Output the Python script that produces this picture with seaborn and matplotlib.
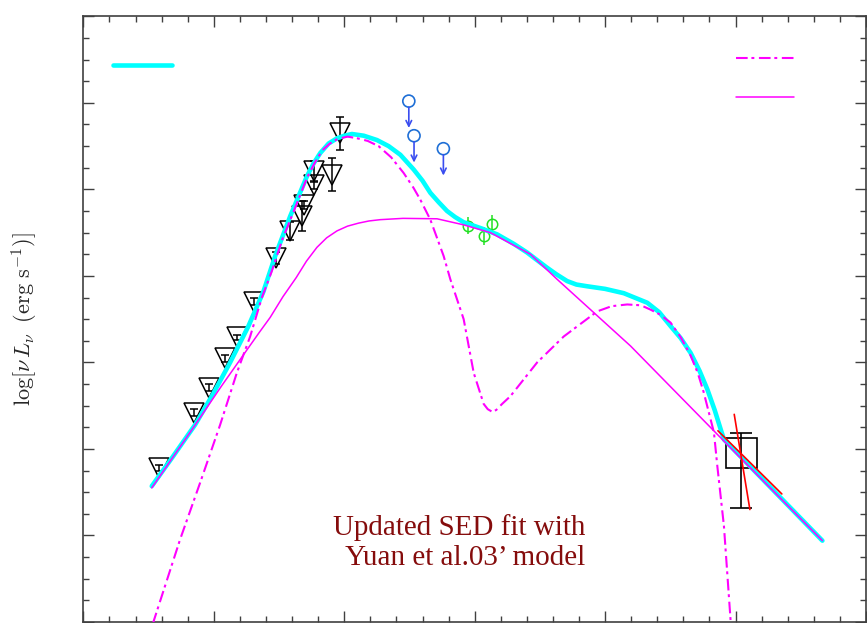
import matplotlib
matplotlib.use("Agg")
import matplotlib.pyplot as plt
from matplotlib.patches import Rectangle
from matplotlib.ticker import MultipleLocator, NullFormatter
import seaborn as sns

# ---- model curves: log(nu / Hz) vs log(nu L_nu / erg s^-1) ----
total_lognu = [9.048, 9.380, 9.713, 9.969, 10.250, 10.531, 10.761, 10.941, 11.171,
               11.427, 11.53, 11.632, 11.76, 11.888, 12.0, 12.118, 12.3, 12.502,
               12.68, 12.860, 13.064, 13.2, 13.320, 13.45, 13.576, 13.70, 13.831,
               14.1, 14.344, 14.6, 14.804, 15.10, 15.25, 15.418, 15.56, 15.725,
               16.0, 16.287, 16.646, 16.83, 17.004, 17.16, 17.311, 17.45, 17.567,
               17.68, 17.771, 17.822, 19.332]
total_lum = [31.57, 31.92, 32.28, 32.61, 33.00, 33.42, 33.82, 34.23, 34.69,
             35.15, 35.30, 35.42, 35.53, 35.59, 35.62, 35.64, 35.62, 35.57,
             35.50, 35.40, 35.23, 35.10, 34.96, 34.85, 34.75, 34.68, 34.62,
             34.55, 34.48, 34.37, 34.27, 34.10, 34.02, 33.94, 33.90, 33.88,
             33.85, 33.80, 33.69, 33.58, 33.42, 33.28, 33.11, 32.90, 32.69,
             32.45, 32.23, 32.11, 30.94]

thermal_lognu = [9.063, 9.073, 9.483, 9.790, 10.097, 10.353, 10.557, 10.737, 10.887,
                 11.05, 11.222, 11.432, 11.55, 11.662, 11.78, 11.893, 12.05, 12.200,
                 12.36, 12.526, 12.72, 12.910, 13.06, 13.167, 13.320, 13.524,
                 13.627, 13.831, 13.985, 14.07, 14.138, 14.20, 14.267, 14.33,
                 14.42, 14.548, 14.958, 15.366, 15.879, 16.1, 16.339, 16.55,
                 16.697, 16.85, 17.004, 17.16, 17.311, 17.42, 17.510, 17.669,
                 17.721, 17.822, 17.925, 17.935]
thermal_lum = [29.95, 30.00, 30.955, 31.61, 32.28, 32.88, 33.30, 33.75, 34.05,
               34.42, 34.74, 35.14, 35.31, 35.45, 35.53, 35.58, 35.61, 35.59,
               35.56, 35.50, 35.37, 35.19, 35.02, 34.88, 34.65, 34.23,
               33.96, 33.50, 32.88, 32.68, 32.52, 32.46, 32.43, 32.45,
               32.52, 32.61, 33.00, 33.30, 33.59, 33.65, 33.67, 33.66,
               33.61, 33.55, 33.46, 33.29, 33.08, 32.88, 32.66, 32.19,
               31.80, 31.11, 30.01, 29.90]

nonthermal_lognu = [9.048, 9.698, 10.120, 10.531, 10.70, 10.864, 11.06, 11.263,
                    11.42, 11.581, 11.73, 11.888, 12.05, 12.220, 12.38, 12.553,
                    12.9, 13.423, 13.831, 14.241, 14.855, 15.265, 16.390, 17.771,
                    19.332]
nonthermal_lum = [31.55, 32.26, 32.73, 33.17, 33.35, 33.52, 33.76, 33.98,
                  34.17, 34.33, 34.44, 34.52, 34.575, 34.61, 34.635, 34.65,
                  34.665, 34.66, 34.59, 34.50, 34.25, 33.96, 33.19, 32.13,
                  30.94]

# ---- observations ----
radio_lognu = [9.16, 9.70, 9.92, 10.17, 10.35, 10.62, 10.96, 11.17, 11.35, 11.38,
               11.53, 11.53, 11.81, 11.94]
radio_lum = [31.78, 32.42, 32.71, 33.05, 33.29, 33.70, 34.21, 34.52, 34.69, 34.82,
             35.05, 35.21, 35.17, 35.65]
radio_err = [0.04, 0.04, 0.04, 0.04, 0.03, 0.04, 0.07, 0.10, 0.17, 0.05,
             0.05, 0.12, 0.19, 0.19]

ir_limit_lognu = [12.99, 13.07, 13.52]
ir_limit_lum = [36.02, 35.62, 35.47]

nir_lognu = [13.90, 14.15, 14.26]
nir_lum = [34.58, 34.46, 34.60]
nir_err = [0.10, 0.10, 0.10]

xray_band = [17.86, 18.33]
xray_box_lum = [31.78, 32.13]
xray_center = 18.09
xray_range = [31.32, 32.19]
bowtie_a = ([17.73, 18.71], [32.21, 31.48])
bowtie_b = ([17.98, 18.22], [32.40, 31.30])

sns.set_style("ticks")
plt.rcParams["mathtext.fontset"] = "cm"
plt.rcParams["font.family"] = ["DejaVu Sans"]

fig = plt.figure(figsize=(8.67, 6.23), dpi=100)
ax = fig.add_axes([0.0962, 0.0016, 0.9026, 0.9722])

# observations
ax.errorbar(radio_lognu, radio_lum, yerr=radio_err, fmt="v", ms=14,
            mfc="none", mec="black", mew=1.1, ecolor="black", elinewidth=1.1,
            capsize=3, capthick=1.0, zorder=2)
ax.errorbar(nir_lognu, nir_lum, yerr=nir_err, fmt="o", ms=7.5, mfc="none",
            mec="#22e022", mew=1.1, ecolor="#22e022", elinewidth=1.1,
            capsize=0, zorder=2)
sns.scatterplot(x=ir_limit_lognu, y=ir_limit_lum, ax=ax, marker="o", s=75,
                facecolors="none", edgecolor="#1f6fd6", linewidth=1.2, zorder=3)
for xv, yv in zip(ir_limit_lognu, ir_limit_lum):
    ax.annotate("", xy=(xv, yv - 0.31), xytext=(xv, yv - 0.07),
                arrowprops=dict(arrowstyle="->", color="#3a4df0", lw=1.2,
                                mutation_scale=10, shrinkA=0, shrinkB=0),
                zorder=3)

ax.add_patch(Rectangle((xray_band[0], xray_box_lum[0]),
                       xray_band[1] - xray_band[0],
                       xray_box_lum[1] - xray_box_lum[0],
                       fill=False, ec="black", lw=1.2, zorder=2))
ax.errorbar([xray_center], [sum(xray_range) / 2],
            yerr=[[sum(xray_range) / 2 - xray_range[0]],
                  [xray_range[1] - sum(xray_range) / 2]],
            fmt="none", ecolor="black", elinewidth=1.2, capsize=8,
            capthick=1.2, zorder=2)

# model curves
sns.lineplot(x=total_lognu, y=total_lum, ax=ax, color="#00ffff", lw=3.3,
             estimator=None, sort=False, zorder=4)
sns.lineplot(x=thermal_lognu, y=thermal_lum, ax=ax, color="#ff00ff", lw=1.5,
             linestyle=(0, (5.6, 1.8, 1.4, 2.2)), estimator=None, sort=False,
             zorder=5)
sns.lineplot(x=nonthermal_lognu, y=nonthermal_lum, ax=ax, color="#ff00ff",
             lw=1.1, estimator=None, sort=False, zorder=5)

ax.plot(*bowtie_a, color="#ff0000", lw=1.2, zorder=6)
ax.plot(*bowtie_b, color="#ff0000", lw=1.2, zorder=6)

# legend keys
ax.plot([0.038, 0.113], [0.919, 0.919], transform=ax.transAxes,
        color="#00ffff", lw=3.3)
ax.plot([0.834, 0.908], [0.931, 0.931], transform=ax.transAxes,
        color="#ff00ff", lw=1.5, linestyle=(0, (5.6, 1.8, 1.4, 2.2)))
ax.plot([0.834, 0.908], [0.867, 0.867], transform=ax.transAxes,
        color="#ff00ff", lw=1.1)

ax.text(0.641, 0.179, "Updated SED fit with\n Yuan et al.03\u2019 model",
        transform=ax.transAxes, ha="right", va="top", multialignment="right",
        family="Liberation Serif", fontsize=21, color="#850c0c",
        linespacing=1.22)

ax.set_xlim(8, 20)
ax.set_ylim(30, 37)
ax.xaxis.set_major_locator(MultipleLocator(2))
ax.xaxis.set_minor_locator(MultipleLocator(0.4))
ax.yaxis.set_major_locator(MultipleLocator(1))
ax.yaxis.set_minor_locator(MultipleLocator(0.25))
ax.xaxis.set_major_formatter(NullFormatter())
ax.yaxis.set_major_formatter(NullFormatter())
ax.tick_params(which="both", direction="in", top=True, right=True,
               color="#404040", width=1.0)
ax.tick_params(which="major", length=8)
ax.tick_params(which="minor", length=4)
for sp in ax.spines.values():
    sp.set_color("#404040")
    sp.set_linewidth(1.2)

ax.set_xlabel("")
ax.set_ylabel(r"$\log[\nu\, L_\nu\;\;(\mathrm{erg\ s^{-1}})]$", fontsize=16)
ax.yaxis.set_label_coords(-0.056, 0.5)

fig.savefig("out.png", dpi=100)
